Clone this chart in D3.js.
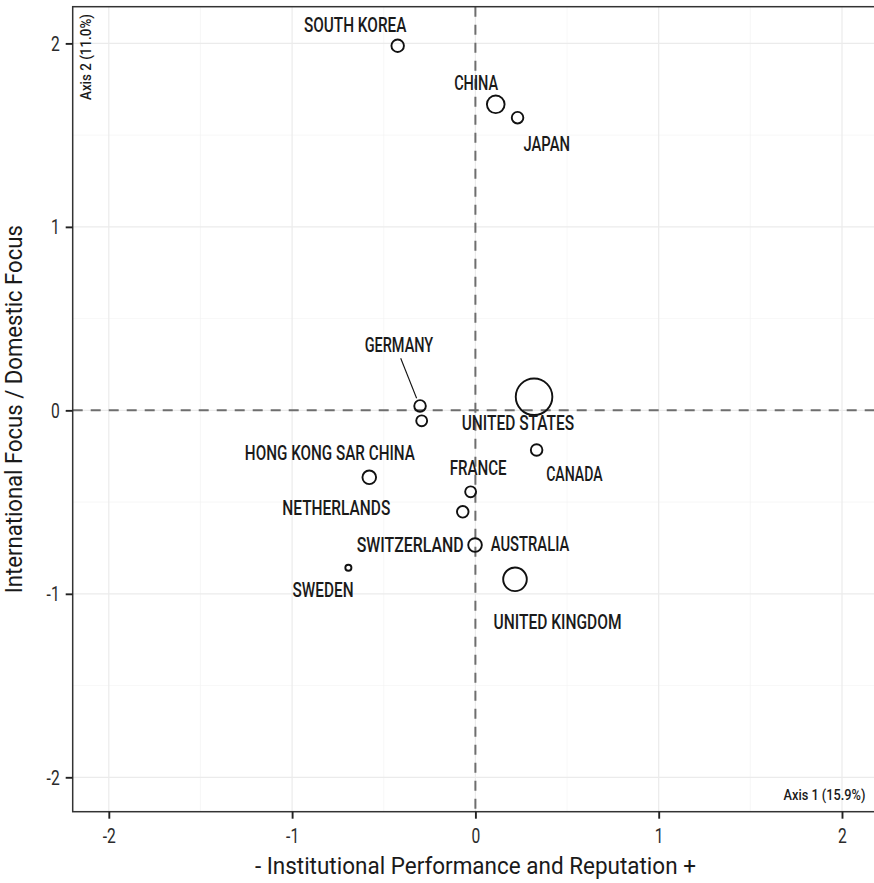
<!DOCTYPE html>
<html>
<head>
<meta charset="utf-8">
<script src="https://cdn.jsdelivr.net/npm/d3@7"></script>
<style>
  html, body { margin: 0; padding: 0; background: #fff; }
  svg { display: block; font-family: Roboto, "Noto Sans", sans-serif; }
</style>
</head>
<body>
<svg id="chart" width="874" height="883"></svg>
<script>
// Correspondence analysis map: countries on the first two axes
const countries = [
  "SOUTH KOREA", "CHINA", "JAPAN", "GERMANY", "NETHERLANDS", "UNITED STATES",
  "CANADA", "HONG KONG SAR CHINA", "FRANCE", "SWITZERLAND", "AUSTRALIA",
  "SWEDEN", "UNITED KINGDOM"
];
const axis1 = [-0.424, 0.111, 0.230, -0.302, -0.293, 0.320, 0.334, -0.579, -0.026, -0.069, -0.002, -0.693, 0.216];
const axis2 = [1.987, 1.668, 1.595, 0.024, -0.057, 0.074, -0.216, -0.365, -0.444, -0.553, -0.734, -0.858, -0.921];
// row mass (%), shown as circle area
const mass = [2.1, 4.2, 1.8, 1.8, 1.6, 18.0, 1.8, 2.5, 1.6, 1.8, 2.5, 0.5, 7.5];

// repelled label positions, in axis units
const labelAxis1 = [-0.656, 0.004, 0.389, -0.417, -0.759, 0.232, 0.540, -0.794, 0.015, -0.356, 0.298, -0.831, 0.448];
const labelAxis2 = [2.099, 1.782, 1.452, 0.358, -0.530, -0.071, -0.348, -0.231, -0.315, -0.734, -0.731, -0.982, -1.156];
// leader line for the one label pushed away from its point: [x1, y1, x2, y2]
const leaders = { "GERMANY": [-0.4075, 0.284, -0.3207, 0.066] };

const xTicks = [-2, -1, 0, 1, 2];
const yTicks = [-2, -1, 0, 1, 2];
const minorBreaks = [-1.5, -0.5, 0.5, 1.5];
const xTitle = "- Institutional Performance and Reputation +";
const yTitle = "International Focus / Domestic Focus";
const axis1Note = "Axis 1 (15.9%)";
const axis2Note = "Axis 2 (11.0%)";

// ---- layout ----
const panel = { left: 72.7, top: 6.7, right: 878.1, bottom: 811.7 };
const labelFont = 19.5;
const labelWidth = {
  "SOUTH KOREA": 102.5, "CHINA": 44, "JAPAN": 46.5, "GERMANY": 68.5,
  "NETHERLANDS": 108, "UNITED STATES": 112.5, "CANADA": 56.5,
  "HONG KONG SAR CHINA": 170, "FRANCE": 57, "SWITZERLAND": 107,
  "AUSTRALIA": 78.5, "SWEDEN": 61, "UNITED KINGDOM": 128
};
const condense = 0.8;
const ink = "#1a1a1a";

const svg = d3.select("#chart");
const x = d3.scaleLinear().domain([-2.197, 2.197]).range([panel.left, panel.right]);
const y = d3.scaleLinear().domain([-2.1875, 2.2]).range([panel.bottom, panel.top]);
const r = d3.scaleSqrt().domain([0, d3.max(mass)]).range([0, 18.3]);

const rows = countries.map((c, i) => ({
  name: c, a1: axis1[i], a2: axis2[i], mass: mass[i],
  lx: labelAxis1[i], ly: labelAxis2[i]
}));

// squeeze a text to a narrower set width
function squeeze(sel, factor) {
  sel.each(function () {
    const w = this.getComputedTextLength();
    d3.select(this).attr("textLength", w * factor).attr("lengthAdjust", "spacingAndGlyphs");
  });
}

svg.append("defs").append("clipPath").attr("id", "panel-clip")
  .append("rect")
  .attr("x", panel.left).attr("y", panel.top)
  .attr("width", panel.right - panel.left).attr("height", panel.bottom - panel.top);

const plot = svg.append("g").attr("clip-path", "url(#panel-clip)");

// grid
plot.append("g").selectAll("line").data(minorBreaks).join("line")
  .attr("x1", d => x(d)).attr("x2", d => x(d))
  .attr("y1", panel.top).attr("y2", panel.bottom)
  .attr("stroke", "#f2f2f2").attr("stroke-width", 0.6);
plot.append("g").selectAll("line").data(minorBreaks).join("line")
  .attr("y1", d => y(d)).attr("y2", d => y(d))
  .attr("x1", panel.left).attr("x2", panel.right)
  .attr("stroke", "#f2f2f2").attr("stroke-width", 0.6);
plot.append("g").selectAll("line").data(xTicks).join("line")
  .attr("x1", d => x(d)).attr("x2", d => x(d))
  .attr("y1", panel.top).attr("y2", panel.bottom)
  .attr("stroke", "#ebebeb").attr("stroke-width", 1.2);
plot.append("g").selectAll("line").data(yTicks).join("line")
  .attr("y1", d => y(d)).attr("y2", d => y(d))
  .attr("x1", panel.left).attr("x2", panel.right)
  .attr("stroke", "#ebebeb").attr("stroke-width", 1.2);

// origin reference lines
plot.append("line")
  .attr("x1", panel.left).attr("x2", panel.right)
  .attr("y1", y(0)).attr("y2", y(0))
  .attr("stroke", "#6e6e6e").attr("stroke-width", 2).attr("stroke-dasharray", "10,8");
plot.append("line")
  .attr("x1", x(0)).attr("x2", x(0))
  .attr("y1", panel.top).attr("y2", panel.bottom)
  .attr("stroke", "#6e6e6e").attr("stroke-width", 2).attr("stroke-dasharray", "10,8");

// leader lines
plot.append("g").selectAll("line").data(Object.entries(leaders)).join("line")
  .attr("x1", d => x(d[1][0])).attr("y1", d => y(d[1][1]))
  .attr("x2", d => x(d[1][2])).attr("y2", d => y(d[1][3]))
  .attr("stroke", "#111").attr("stroke-width", 1.1);

// points
plot.append("g").selectAll("circle").data(rows).join("circle")
  .attr("cx", d => x(d.a1)).attr("cy", d => y(d.a2))
  .attr("r", d => r(d.mass))
  .attr("fill", "none").attr("stroke", "#111").attr("stroke-width", 1.9);

// country labels
plot.append("g").selectAll("text").data(rows).join("text")
  .attr("x", d => x(d.lx))
  .attr("y", d => y(d.ly) + labelFont * 0.355)
  .attr("text-anchor", "middle")
  .attr("font-size", labelFont)
  .attr("font-weight", 500)
  .attr("fill", ink)
  .attr("textLength", d => labelWidth[d.name])
  .attr("lengthAdjust", "spacingAndGlyphs")
  .text(d => d.name);

// panel border
svg.append("rect")
  .attr("x", panel.left).attr("y", panel.top)
  .attr("width", panel.right - panel.left).attr("height", panel.bottom - panel.top)
  .attr("fill", "none").attr("stroke", "#333").attr("stroke-width", 1.5);

// axis notes inside the panel corners, narrowed with a horizontal scale
function note(text, transform, width) {
  const t = svg.append("text")
    .attr("font-size", 15).attr("font-weight", 500).attr("fill", ink)
    .text(text);
  const k = width / t.node().getComputedTextLength();
  t.attr("transform", `${transform} scale(${k},1)`);
}
note(axis1Note, "translate(783.5,799.5)", 82);
note(axis2Note, "translate(91,100) rotate(-90)", 86);

// axes
const fmt = d => String(d);
const xAxis = svg.append("g").attr("transform", `translate(0,${panel.bottom})`)
  .call(d3.axisBottom(x).tickValues(xTicks).tickFormat(fmt).tickSize(7).tickSizeOuter(0));
const yAxis = svg.append("g").attr("transform", `translate(${panel.left},0)`)
  .call(d3.axisLeft(y).tickValues(yTicks).tickFormat(fmt).tickSize(7).tickSizeOuter(0));
[xAxis, yAxis].forEach(g => {
  g.select(".domain").remove();
  g.selectAll(".tick line").attr("stroke", "#222").attr("stroke-width", 1.9);
  g.selectAll(".tick text")
    .attr("font-family", "Roboto, sans-serif").attr("font-size", 19.5)
    .attr("fill", "#2b2b2b");
});
xAxis.selectAll(".tick text").attr("y", 31.8).attr("dy", 0);
yAxis.selectAll(".tick text").attr("x", -13).attr("dy", "0.36em");
squeeze(xAxis.selectAll(".tick text"), condense);
squeeze(yAxis.selectAll(".tick text"), condense);

// axis titles
svg.append("text")
  .attr("x", (panel.left + panel.right) / 2).attr("y", 874)
  .attr("text-anchor", "middle").attr("font-size", 24.5).attr("fill", ink)
  .attr("textLength", 441).attr("lengthAdjust", "spacingAndGlyphs")
  .text(xTitle);
svg.append("text")
  .attr("transform", `translate(22,${(panel.top + panel.bottom) / 2}) rotate(-90)`)
  .attr("text-anchor", "middle").attr("font-size", 24.5).attr("fill", ink)
  .attr("textLength", 368).attr("lengthAdjust", "spacingAndGlyphs")
  .text(yTitle);
</script>
</body>
</html>
